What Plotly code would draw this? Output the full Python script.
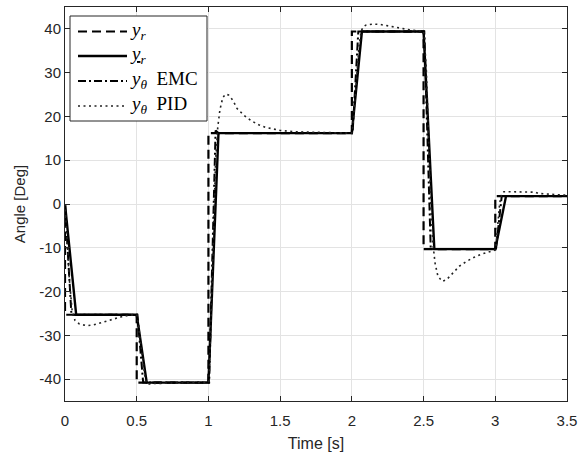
import plotly.graph_objects as go

# ---------------- data ----------------
# reference y_r (ideal steps)
t_ref = [0, 0, 0.5, 0.5, 1.0, 1.0, 2.0, 2.0, 2.5, 2.5, 3.0, 3.0, 3.5]
y_ref = [0, -25.3, -25.3, -40.8, -40.8, 16.2, 16.2, 39.4, 39.4, -10.3, -10.3, 1.8, 1.8]

# filtered reference (underlined y_r)
t_filt = [0, 0.078, 0.5, 0.57, 1.0, 1.07, 2.0, 2.07, 2.5, 2.575, 3.0, 3.075, 3.5]
y_filt = [0, -25.3, -25.3, -40.8, -40.8, 16.2, 16.2, 39.4, 39.4, -10.3, -10.3, 1.8, 1.8]

# y_theta EMC
t_emc = [0, 0.045, 0.5, 0.505, 0.545, 1.0, 1.005, 1.05, 1.07, 2.0, 2.005, 2.045,
         2.5, 2.505, 2.55, 3.0, 3.005, 3.045, 3.5]
y_emc = [0, -25.3, -25.3, -25.3, -40.8, -40.8, -40.8, 16.8, 16.2, 16.2, 16.2, 39.4,
         39.4, 39.4, -10.3, -10.3, -10.3, 1.8, 1.8]

# y_theta PID
t_pid = [0, 0.01, 0.03, 0.05, 0.07, 0.1, 0.15, 0.2, 0.25, 0.3, 0.35, 0.4, 0.45, 0.5,
         0.505, 0.52, 0.54, 0.56, 0.58, 0.6, 1.0,
         1.005, 1.02, 1.035, 1.05, 1.065, 1.08, 1.1, 1.12, 1.14, 1.17, 1.2, 1.25, 1.3,
         1.35, 1.4, 1.45, 1.5, 1.6, 1.8, 2.0,
         2.005, 2.02, 2.035, 2.05, 2.065, 2.08, 2.1, 2.15, 2.2, 2.25, 2.3, 2.35, 2.4,
         2.45, 2.5,
         2.505, 2.52, 2.535, 2.55, 2.565, 2.58, 2.6, 2.63, 2.66, 2.7, 2.75, 2.8, 2.85,
         2.9, 2.95, 3.0,
         3.005, 3.015, 3.03, 3.045, 3.06, 3.1, 3.2, 3.28, 3.3, 3.4, 3.5]
y_pid = [0, -6, -17, -24.5, -26.6, -27.4, -27.8, -27.6, -27.1, -26.6, -26.1, -25.7, -25.4, -25.3,
         -25.8, -30, -36, -40.2, -41.2, -41.0, -40.8,
         -39.5, -25, -5, 10, 17.5, 21.5, 24.3, 25.1, 24.9, 23.7, 21.8, 20.2, 19.0,
         18.1, 17.5, 17.1, 16.8, 16.5, 16.3, 16.2,
         17, 23, 30, 36, 39.5, 40.5, 40.9, 41.1, 41.0, 40.7, 40.3, 40.0, 39.8,
         39.6, 39.5,
         38.5, 30, 15, 0, -9, -13.5, -16.5, -17.7, -17.3, -15.9, -14.2, -13.1, -12.2,
         -11.5, -11.0, -10.5,
         -9.5, -5, 0, 2.5, 2.8, 2.8, 2.8, 2.7, 2.4, 2.2, 2.0]

x_ticks = [0, 0.5, 1, 1.5, 2, 2.5, 3, 3.5]
x_tick_labels = ["0", "0.5", "1", "1.5", "2", "2.5", "3", "3.5"]
y_ticks = [-40, -30, -20, -10, 0, 10, 20, 30, 40]
y_tick_labels = ["-40", "-30", "-20", "-10", "0", "10", "20", "30", "40"]

legend_labels = ["<i>y</i><sub><i>r</i></sub>",
                 "<u><i>y</i></u><sub><i>r</i></sub>",
                 "<i>y</i><sub><i>θ</i></sub>  EMC",
                 "<i>y</i><sub><i>θ</i></sub>  PID"]

# ---------------- styles ----------------
DASH = "9px,5px"
DASHDOT = "8px,3px,2px,3px"
DOT = "2px,3.5px"
styles = [
    dict(color="black", width=2.2, dash=DASH),
    dict(color="black", width=2.4, dash="solid"),
    dict(color="black", width=2.0, dash=DASHDOT),
    dict(color="#222222", width=1.6, dash=DOT),
]

fig = go.Figure()
series = [(t_ref, y_ref), (t_filt, y_filt), (t_emc, y_emc), (t_pid, y_pid)]
for (tx, ty), st, lab in zip(series, styles, legend_labels):
    fig.add_trace(go.Scatter(x=tx, y=ty, mode="lines", line=st, name=lab,
                             showlegend=False))

W, H = 584, 452
L, R, T, B = 65, 17, 7, 51
pw, ph = W - L - R, H - T - B


def px(x):
    return (x - L) / pw


def py(y):
    return (H - B - y) / ph


shapes = []
annotations = []
# legend box
shapes.append(dict(type="rect", xref="paper", yref="paper",
                   x0=px(70), x1=px(207), y0=py(121), y1=py(16),
                   line=dict(color="#262626", width=1), fillcolor="white", layer="above"))
rows = [31.5, 56, 81, 106]
for r, st, lab in zip(rows, styles, legend_labels):
    shapes.append(dict(type="line", xref="paper", yref="paper",
                       x0=px(78), x1=px(127), y0=py(r), y1=py(r),
                       line=dict(color=st["color"], width=st["width"], dash=st["dash"]),
                       layer="above"))
    annotations.append(dict(xref="paper", yref="paper", x=px(128), y=py(r - 1),
                            xanchor="left", yanchor="middle", showarrow=False,
                            text=lab, font=dict(family="Liberation Serif", size=19, color="black")))

fig.update_layout(
    width=W, height=H,
    margin=dict(l=L, r=R, t=T, b=B),
    paper_bgcolor="white", plot_bgcolor="white",
    font=dict(family="Liberation Sans, Arial, sans-serif", size=15, color="#262626"),
    shapes=shapes, annotations=annotations,
    showlegend=False,
)
fig.update_xaxes(range=[0, 3.5], tickvals=x_ticks, ticktext=x_tick_labels,
                 showgrid=True, gridcolor="#e3e3e3", gridwidth=1,
                 showline=True, linecolor="#262626", linewidth=1, mirror="ticks",
                 ticks="inside", ticklen=5, tickcolor="#262626", zeroline=False,
                 automargin=False, tickfont=dict(size=15), ticklabelstandoff=6,
                 title=dict(text="Time [s]", standoff=10, font=dict(size=16)))
fig.update_yaxes(range=[-45, 45], tickvals=y_ticks, ticktext=y_tick_labels,
                 showgrid=True, gridcolor="#e3e3e3", gridwidth=1,
                 showline=True, linecolor="#262626", linewidth=1, mirror="ticks",
                 ticks="inside", ticklen=5, tickcolor="#262626", zeroline=False,
                 automargin=False, tickfont=dict(size=15),
                 title=dict(text="Angle [Deg]", standoff=10, font=dict(size=15)))

fig.write_html("out.html", config={"displayModeBar": False},
               post_script="document.body.style.margin='0';")
